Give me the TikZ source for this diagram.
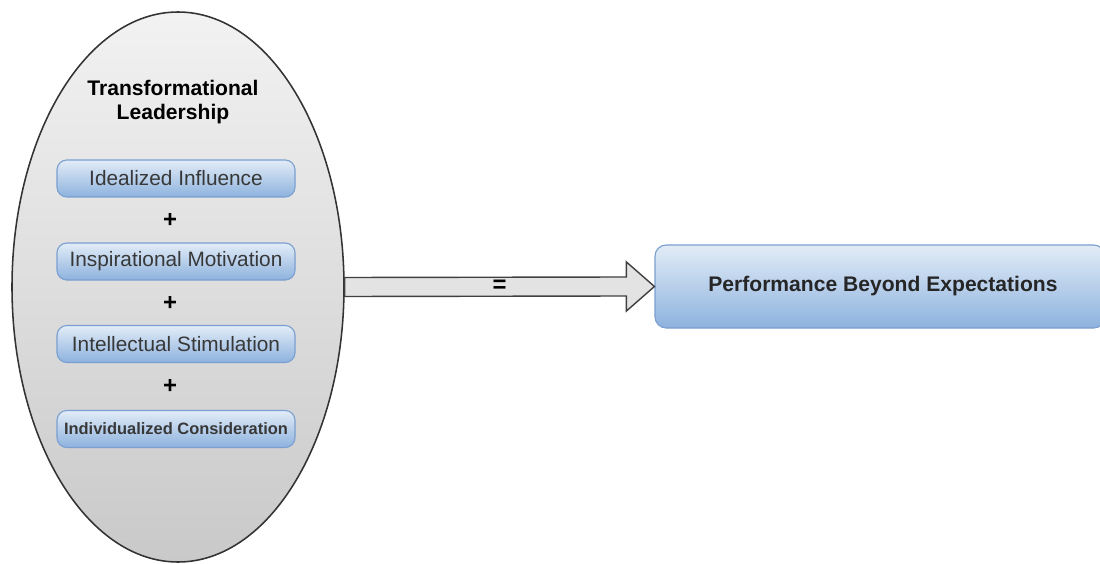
\documentclass[tikz,border=0pt]{standalone}
\usepackage{fontspec}
\setmainfont{Liberation Sans}
\usepackage{tikz}
\usetikzlibrary{positioning,calc,shapes.geometric}
\definecolor{boxtop}{HTML}{E2ECF7}
\definecolor{boxbot}{HTML}{8DB2DE}
\definecolor{boxline}{HTML}{7A9FD0}
\definecolor{ovaltop}{HTML}{F2F2F2}
\definecolor{ovalbot}{HTML}{C9C9C9}
\definecolor{txtgray}{HTML}{383838}
\tikzset{
    oval/.style = {
        draw=black!80,
        shape=ellipse,
        inner sep=0pt,
        minimum width=8.3cm,
        minimum height=13.75cm,
        top color=ovaltop,
        bottom color=ovalbot,
        line width=1.1pt
    },
    factor/.style = {
        draw=boxline,
        shape=rectangle,
        rounded corners=7pt,
        inner xsep=2pt,
        minimum height=0.925cm,
        minimum width=5.95cm,
        top color=boxtop,
        bottom color=boxbot,
        line width=0.8pt,
        text=txtgray,
        font=\fontsize{14.8}{17}\selectfont
    },
    outcome/.style = {
        draw=boxline,
        shape=rectangle,
        rounded corners=8pt,
        minimum height=2.075cm,
        minimum width=11.25cm,
        top color=boxtop,
        bottom color=boxbot,
        line width=0.8pt
    },
    plus/.style = {
        shape=rectangle,
        font=\bfseries\fontsize{17}{17}\selectfont
    },
    bigarrow/.style = {
        draw=black!75,
        fill=gray!22,
        line width=1pt,
        line join=miter
    },
}

\begin{document}
\begin{tikzpicture}
                \useasboundingbox (0,0) rectangle (27.5,14.075);

                \node[oval] (lead) at (4.45,6.9) {};
                \node[align=center, font=\bfseries\fontsize{15}{16.5}\selectfont] (title) at (4.325,11.525) {Transformational\\Leadership};

                \node[factor] (ideal) at (4.4,9.6125) {Idealized Influence};
                \node[plus] (p1) at (4.25,8.575) {+};
                \node[factor] (insp) at (4.4,7.5375) {Inspirational Motivation};
                \node[plus] (p2) at (4.25,6.5) {+};
                \node[factor] (intel) at (4.4,5.475) {Intellectual Stimulation};
                \node[plus] (p3) at (4.25,4.425) {+};
                \node[factor, font=\bfseries\fontsize{11.7}{13}\selectfont] (indiv) at (4.4,3.35) {Individualized Consideration};

                \node[outcome, font=\bfseries\fontsize{15}{17}\selectfont, text=black!85] (perf) at (22.0,6.9125) {\hspace{0.15cm}Performance Beyond Expectations};

                % fat arrow from the oval to the outcome
                \path[bigarrow] (lead.east) ++(0,0.2375) -- ($(perf.west)+(-0.7,0.2375)$) -- ($(perf.west)+(-0.7,0.6125)$)
                    -- (perf.west) -- ($(perf.west)+(-0.7,-0.6125)$) -- ($(perf.west)+(-0.7,-0.2375)$)
                    -- ($(lead.east)+(0,-0.2375)$) -- cycle;
                \node[font=\bfseries\fontsize{17}{17}\selectfont] (eq) at ($(lead.east)!0.5!(perf.west)$) {=};
            \end{tikzpicture}
\end{document}
